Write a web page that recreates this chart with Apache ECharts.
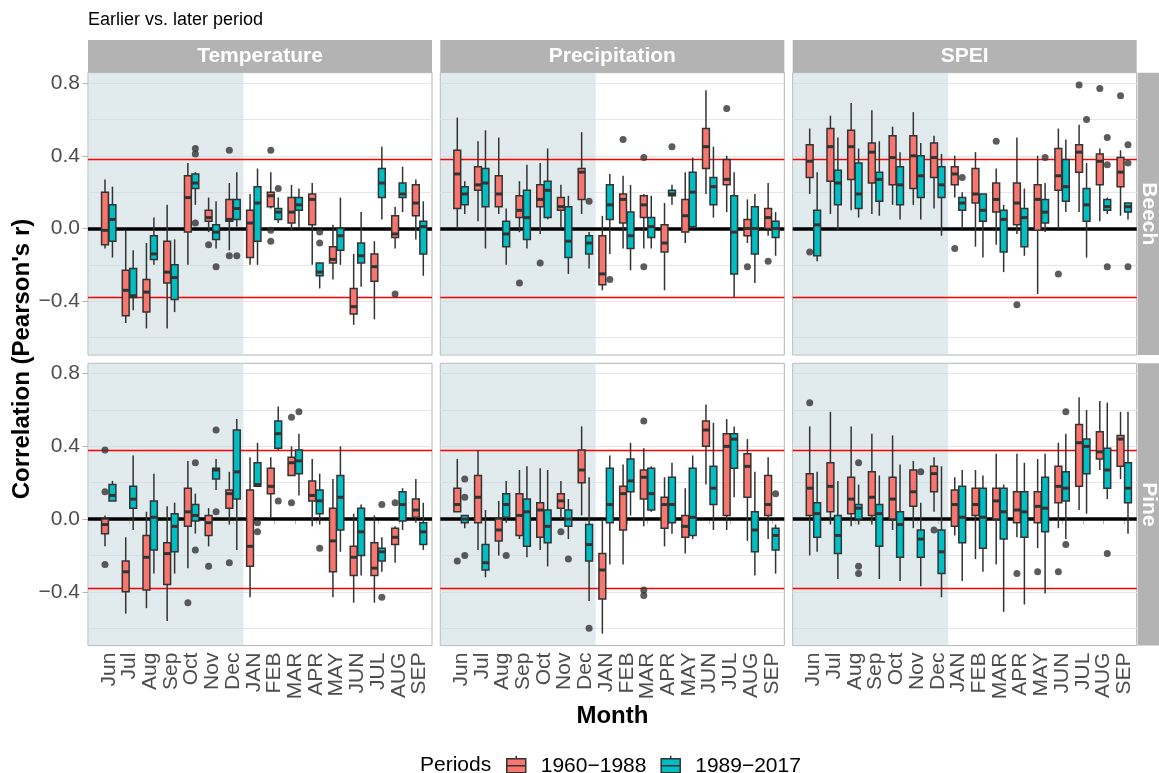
<!DOCTYPE html>
<html><head><meta charset="utf-8">
<script src="https://cdn.jsdelivr.net/npm/echarts@6/dist/echarts.min.js"></script>
<style>html,body{margin:0;padding:0;background:#fff}#c{width:1159px;height:773px}</style>
</head><body><div id="c"></div>
<script>
// ---------- categories / labels ----------
const months = ['Jun','Jul','Aug','Sep','Oct','Nov','Dec','JAN','FEB','MAR','APR','MAY','JUN','JUL','AUG','SEP'];
const variables = ['Temperature','Precipitation','SPEI'];
const species = ['Beech','Pine'];
const periods = ['1960−1988','1989−2017'];
const yTicks = [-0.4, 0, 0.4, 0.8];
const yMinorTicks = [-0.6, -0.2, 0.2, 0.6];
const criticalR = 0.381;
const previousYearEnd = 7.5; // shaded previous-year months end between Dec and JAN

// ---------- box stats: [whiskerLow, Q1, median, Q3, whiskerHigh] per month ----------
const tempBeechEarly = [[-0.11,-0.09,-0.01,0.20,0.27],[-0.52,-0.48,-0.34,-0.23,-0.01],[-0.55,-0.46,-0.35,-0.28,-0.08],[-0.55,-0.30,-0.24,-0.07,0.13],[-0.20,-0.02,0.17,0.29,0.36],[-0.02,0.04,0.06,0.10,0.17],[-0.12,0.04,0.05,0.16,0.25],[-0.20,-0.16,0.03,0.10,0.19],[0.11,0.12,0.18,0.20,0.31],[-0.01,0.03,0.09,0.17,0.24],[-0.20,0.02,0.16,0.19,0.25],[-0.28,-0.19,-0.17,-0.10,0.02],[-0.53,-0.47,-0.43,-0.33,-0.14],[-0.50,-0.29,-0.21,-0.14,-0.07],[-0.11,-0.05,-0.03,0.07,0.12],[-0.06,0.07,0.14,0.24,0.27]];
const tempBeechLate = [[-0.16,-0.07,0.05,0.13,0.23],[-0.45,-0.38,-0.37,-0.22,-0.12],[-0.20,-0.17,-0.14,-0.04,0.06],[-0.46,-0.39,-0.27,-0.20,-0.06],[0.13,0.22,0.25,0.30,0.31],[-0.11,-0.06,-0.02,0.02,0.15],[0.01,0.05,0.11,0.16,0.31],[-0.20,-0.07,0.14,0.23,0.33],[0.03,0.05,0.09,0.11,0.17],[0.00,0.10,0.13,0.17,0.22],[-0.33,-0.26,-0.24,-0.19,-0.19],[-0.20,-0.12,-0.04,0.00,0.17],[-0.32,-0.19,-0.15,-0.08,0.09],[0.05,0.17,0.25,0.33,0.45],[0.09,0.17,0.19,0.25,0.34],[-0.26,-0.14,0.01,0.04,0.15]];
const precBeechEarly = [[0.00,0.11,0.30,0.43,0.61],[0.04,0.21,0.24,0.34,0.48],[0.08,0.12,0.19,0.29,0.50],[-0.02,0.06,0.10,0.18,0.26],[-0.03,0.12,0.16,0.24,0.36],[0.00,0.10,0.12,0.17,0.24],[0.08,0.16,0.31,0.33,0.53],[-0.34,-0.31,-0.25,-0.04,0.07],[-0.11,0.03,0.16,0.19,0.29],[-0.11,0.06,0.13,0.18,0.19],[-0.34,-0.13,-0.08,0.02,0.14],[-0.08,-0.02,0.07,0.16,0.31],[0.19,0.33,0.45,0.55,0.76],[0.09,0.24,0.27,0.38,0.40],[-0.08,-0.04,0.00,0.05,0.16],[-0.04,0.00,0.06,0.11,0.25]];
const precBeechLate = [[0.08,0.13,0.19,0.23,0.26],[-0.11,0.12,0.25,0.33,0.54],[-0.20,-0.10,-0.03,0.04,0.11],[-0.11,-0.06,0.06,0.21,0.35],[0.05,0.06,0.21,0.26,0.44],[-0.25,-0.16,-0.07,0.12,0.18],[-0.22,-0.14,-0.08,-0.04,-0.02],[-0.14,0.05,0.13,0.24,0.30],[-0.23,-0.11,-0.04,0.09,0.24],[-0.11,-0.05,0.01,0.06,0.18],[0.13,0.18,0.19,0.21,0.24],[0.00,0.01,0.20,0.31,0.39],[0.06,0.13,0.23,0.28,0.45],[-0.38,-0.25,-0.02,0.18,0.31],[-0.30,-0.14,0.00,0.12,0.19],[-0.15,-0.05,0.00,0.04,0.09]];
const speiBeechEarly = [[0.19,0.28,0.37,0.46,0.55],[0.08,0.26,0.45,0.55,0.62],[0.10,0.27,0.45,0.54,0.69],[0.08,0.25,0.42,0.47,0.65],[0.13,0.24,0.39,0.51,0.56],[0.13,0.22,0.40,0.51,0.64],[0.11,0.28,0.39,0.47,0.51],[0.17,0.24,0.30,0.34,0.40],[-0.10,0.14,0.19,0.33,0.42],[-0.09,0.09,0.16,0.25,0.33],[-0.03,0.02,0.14,0.25,0.50],[-0.36,-0.01,0.16,0.24,0.40],[0.00,0.21,0.29,0.44,0.55],[0.09,0.31,0.42,0.46,0.57],[0.04,0.24,0.37,0.41,0.44],[0.07,0.23,0.31,0.39,0.43]];
const speiBeechLate = [[-0.18,-0.15,0.02,0.10,0.31],[-0.01,0.13,0.25,0.32,0.50],[0.06,0.11,0.19,0.36,0.44],[0.07,0.15,0.27,0.31,0.48],[0.05,0.13,0.24,0.34,0.42],[0.05,0.17,0.29,0.40,0.47],[-0.04,0.17,0.24,0.34,0.41],[0.00,0.10,0.14,0.17,0.20],[-0.16,0.04,0.10,0.19,0.19],[-0.24,-0.13,0.05,0.10,0.13],[-0.15,-0.10,0.06,0.11,0.22],[-0.02,0.03,0.09,0.16,0.25],[0.09,0.15,0.23,0.38,0.49],[-0.16,0.04,0.13,0.22,0.36],[0.08,0.10,0.12,0.16,0.17],[0.05,0.09,0.12,0.14,0.14]];
const tempPineEarly = [[-0.15,-0.08,-0.03,0.00,0.02],[-0.52,-0.40,-0.29,-0.23,-0.10],[-0.49,-0.39,-0.21,-0.09,0.04],[-0.56,-0.36,-0.19,-0.13,0.07],[-0.27,-0.04,0.04,0.17,0.32],[-0.15,-0.09,-0.02,0.02,0.06],[-0.03,0.06,0.14,0.16,0.26],[-0.43,-0.26,-0.15,0.16,0.34],[0.01,0.14,0.18,0.28,0.34],[0.24,0.24,0.31,0.34,0.40],[-0.04,0.10,0.13,0.21,0.33],[-0.43,-0.29,-0.12,0.06,0.22],[-0.46,-0.31,-0.21,-0.15,0.03],[-0.46,-0.31,-0.27,-0.13,0.02],[-0.24,-0.14,-0.10,-0.05,-0.04],[-0.02,0.01,0.05,0.11,0.22]];
const tempPineLate = [[0.10,0.10,0.13,0.19,0.21],[-0.06,0.06,0.11,0.18,0.35],[-0.30,-0.17,0.01,0.10,0.25],[-0.30,-0.18,-0.04,0.03,0.09],[-0.08,-0.01,0.02,0.08,0.14],[0.16,0.22,0.27,0.28,0.33],[-0.17,0.11,0.26,0.49,0.55],[0.18,0.18,0.19,0.31,0.42],[0.38,0.39,0.47,0.54,0.62],[0.13,0.25,0.32,0.38,0.47],[-0.03,0.03,0.10,0.16,0.25],[-0.18,-0.06,0.12,0.24,0.40],[-0.31,-0.20,-0.07,0.06,0.08],[-0.29,-0.23,-0.18,-0.16,-0.10],[-0.06,-0.01,0.08,0.15,0.17],[-0.17,-0.14,-0.07,-0.02,0.09]];
const precPineEarly = [[0.04,0.04,0.08,0.17,0.33],[-0.17,-0.02,0.12,0.24,0.38],[-0.20,-0.12,-0.06,0.00,0.10],[-0.11,-0.09,0.02,0.14,0.27],[-0.17,-0.10,0.05,0.09,0.28],[0.00,0.06,0.10,0.14,0.21],[0.02,0.20,0.27,0.38,0.51],[-0.63,-0.44,-0.28,-0.19,0.00],[-0.25,-0.06,0.14,0.18,0.30],[-0.04,0.11,0.23,0.27,0.39],[-0.15,-0.05,0.08,0.12,0.23],[-0.19,-0.10,-0.04,0.02,0.17],[0.19,0.40,0.49,0.54,0.63],[-0.06,0.02,0.40,0.47,0.55],[-0.12,0.12,0.29,0.36,0.44],[-0.11,0.02,0.08,0.24,0.34]];
const precPineLate = [[-0.05,-0.02,0.00,0.02,0.02],[-0.32,-0.28,-0.24,-0.14,0.05],[-0.02,0.01,0.08,0.14,0.21],[-0.21,-0.15,0.04,0.11,0.29],[-0.26,-0.13,-0.04,0.05,0.27],[-0.11,-0.04,0.00,0.05,0.11],[-0.45,-0.23,-0.14,-0.03,0.23],[-0.25,-0.02,0.08,0.28,0.35],[0.02,0.15,0.21,0.33,0.42],[0.04,0.05,0.14,0.28,0.29],[-0.08,-0.02,0.08,0.23,0.31],[-0.11,-0.09,0.01,0.28,0.35],[-0.06,0.08,0.17,0.29,0.53],[0.12,0.28,0.44,0.47,0.51],[-0.31,-0.18,-0.06,0.04,0.26],[-0.30,-0.17,-0.09,-0.05,-0.03]];
const speiPineEarly = [[-0.20,0.02,0.17,0.25,0.51],[-0.03,0.04,0.18,0.31,0.59],[-0.04,0.03,0.11,0.23,0.51],[-0.03,0.02,0.12,0.26,0.47],[-0.06,0.00,0.11,0.23,0.46],[-0.05,0.07,0.15,0.27,0.32],[0.04,0.15,0.25,0.29,0.34],[-0.09,-0.04,0.08,0.16,0.23],[-0.22,0.02,0.08,0.17,0.27],[-0.25,0.00,0.10,0.17,0.36],[-0.10,-0.02,0.05,0.15,0.36],[-0.16,-0.02,0.07,0.15,0.33],[-0.05,0.09,0.18,0.29,0.42],[0.05,0.18,0.42,0.52,0.67],[0.27,0.33,0.37,0.48,0.65],[0.22,0.29,0.44,0.46,0.59]];
const speiPineLate = [[-0.18,-0.10,0.03,0.09,0.26],[-0.33,-0.19,-0.09,0.02,0.21],[-0.03,0.00,0.06,0.08,0.19],[-0.33,-0.15,0.03,0.08,0.24],[-0.34,-0.21,-0.03,0.04,0.30],[-0.37,-0.21,-0.11,-0.06,0.09],[-0.43,-0.30,-0.18,-0.06,0.29],[-0.34,-0.13,0.01,0.18,0.27],[-0.29,-0.16,0.01,0.17,0.24],[-0.51,-0.11,0.04,0.17,0.19],[-0.47,-0.10,0.04,0.15,0.31],[-0.41,-0.07,0.06,0.23,0.36],[-0.11,0.10,0.17,0.26,0.47],[0.03,0.25,0.40,0.44,0.60],[0.11,0.17,0.27,0.39,0.64],[-0.08,0.09,0.17,0.31,0.59]];

// ---------- outliers: [month, value] ----------
const tempBeechEarlyOut = [['Nov',-0.09],['Dec',0.43],['Dec',-0.15],['FEB',0.43],['FEB',-0.01],['FEB',-0.07],['AUG',-0.36]];
const tempBeechLateOut = [['Oct',0.44],['Oct',0.41],['Oct',0.03],['Nov',-0.21],['Dec',-0.15],['FEB',0.22],['APR',-0.02],['APR',-0.08]];
const precBeechEarlyOut = [['Sep',-0.30],['Oct',-0.19],['FEB',0.49],['MAR',0.39],['MAR',-0.21],['JUL',0.66],['AUG',-0.21],['SEP',-0.18]];
const precBeechLateOut = [['Dec',0.15],['JAN',-0.28],['APR',0.45]];
const speiBeechEarlyOut = [['Jun',-0.13],['JAN',-0.11],['MAR',0.48],['APR',-0.42],['JUN',-0.25],['JUL',0.79],['AUG',0.77],['SEP',0.73]];
const speiBeechLateOut = [['JAN',0.28],['MAY',0.39],['JUL',0.60],['AUG',0.50],['AUG',0.35],['AUG',-0.21],['SEP',0.46],['SEP',0.36],['SEP',-0.21]];
const tempPineEarlyOut = [['Jun',0.38],['Jun',0.15],['Jun',-0.25],['Oct',-0.46],['Nov',-0.26],['Dec',-0.24],['MAR',0.56],['MAR',0.09],['AUG',0.09]];
const tempPineLateOut = [['Oct',0.31],['Oct',-0.17],['Nov',0.49],['Nov',0.04],['JAN',-0.02],['JAN',-0.07],['FEB',0.10],['MAR',0.59],['APR',-0.16],['JUL',0.08],['JUL',-0.43]];
const precPineEarlyOut = [['Jun',-0.23],['Nov',-0.07],['MAR',0.54],['MAR',-0.39],['MAR',-0.42]];
const precPineLateOut = [['Jun',0.22],['Jun',0.12],['Jun',-0.20],['Aug',-0.20],['Nov',-0.22],['Dec',-0.60],['SEP',0.14]];
const speiPineEarlyOut = [['Jun',0.64],['Dec',-0.06],['APR',-0.30],['MAY',-0.29],['JUN',-0.29]];
const speiPineLateOut = [['Aug',0.31],['Aug',-0.26],['Aug',-0.30],['Nov',0.26],['JUN',0.59],['JUN',-0.14],['AUG',-0.19]];

// panel order: row (species) x column (variable)
const panels = [
  [tempBeechEarly, tempBeechLate, tempBeechEarlyOut, tempBeechLateOut],
  [precBeechEarly, precBeechLate, precBeechEarlyOut, precBeechLateOut],
  [speiBeechEarly, speiBeechLate, speiBeechEarlyOut, speiBeechLateOut],
  [tempPineEarly, tempPineLate, tempPineEarlyOut, tempPineLateOut],
  [precPineEarly, precPineLate, precPineEarlyOut, precPineLateOut],
  [speiPineEarly, speiPineLate, speiPineEarlyOut, speiPineLateOut]
];

// ---------- layout / style ----------
const FONT = '"Liberation Sans", Arial, Helvetica, sans-serif';
const colLeft = [88, 440.3, 792.7];
const rowTop = [72.7, 363.3];
const PW = 344, PH = 282.3;
const colors = ['#F8766D', '#00BFC4'];
const dodge = [-0.18, 0.18];
const BOX_HALF = 0.165;
const Y_MIN = -0.696, Y_MAX = 0.857;
const X_MIN = 0, X_MAX = 16.6;

const grids = [], xAxes = [], yAxes = [], series = [];
const fmtY = v => Math.abs(v) < 1e-9 ? '0.0' : (v < 0 ? '−' + (-v).toFixed(1) : v.toFixed(1));
const tickVals = months.map((m, i) => i + 1);
const oddVals = tickVals.filter(v => v % 2 === 1);
const evenVals = tickVals.filter(v => v % 2 === 0);
const xLabelStyle = (vals) => ({show: true, customValues: vals, rotate: 90, margin: 7,
  showMinLabel: true, showMaxLabel: true,
  formatter: v => months[Math.round(v) - 1], fontSize: 21, color: '#4d4d4d', fontFamily: FONT});

panels.forEach((pd, p) => {
  const row = Math.floor(p / 3), col = p % 3;
  grids.push({left: colLeft[col], top: rowTop[row], width: PW, height: PH, show: true,
    borderColor: '#b3b3b3', borderWidth: 1, backgroundColor: '#ffffff'});
  xAxes.push({type: 'value', gridIndex: p, min: X_MIN, max: X_MAX, position: 'bottom',
    splitLine: {show: false}, axisLine: {show: false},
    axisTick: {show: row === 1, customValues: tickVals, length: 5, lineStyle: {color: '#b3b3b3', width: 1}},
    axisLabel: row === 1 ? xLabelStyle(oddVals) : {show: false}});
  yAxes.push({type: 'value', gridIndex: p, min: Y_MIN, max: Y_MAX,
    splitLine: {show: false}, axisLine: {show: false},
    axisTick: {show: col === 0, customValues: yTicks, length: 5.5, lineStyle: {color: '#b3b3b3', width: 1}},
    axisLabel: {show: col === 0, customValues: yTicks, formatter: fmtY, margin: 8,
      showMinLabel: true, showMaxLabel: true,
      fontSize: 21, color: '#4d4d4d', fontFamily: FONT}});

  // gridlines
  series.push({type: 'line', xAxisIndex: p, yAxisIndex: p, data: [], silent: true, z: 1,
    markLine: {silent: true, symbol: ['none','none'], label: {show: false}, animation: false, z: 1,
      lineStyle: {color: '#e6e6e6', width: 1, type: 'solid'},
      data: yMinorTicks.concat(yTicks).map(v => ({yAxis: v}))}});
  // previous-year shading
  series.push({type: 'line', xAxisIndex: p, yAxisIndex: p, data: [], silent: true, z: 1,
    markArea: {silent: true, animation: false, z: 1.5,
      itemStyle: {color: 'rgba(200,216,222,0.55)'},
      data: [[{xAxis: 0}, {xAxis: previousYearEnd}]]}});
  // reference lines
  series.push({type: 'line', xAxisIndex: p, yAxisIndex: p, data: [], silent: true, z: 2,
    markLine: {silent: true, symbol: ['none','none'], label: {show: false}, animation: false, z: 2,
      data: [
        {yAxis: criticalR, lineStyle: {color: '#ff0000', width: 1.4, type: 'solid'}},
        {yAxis: -criticalR, lineStyle: {color: '#ff0000', width: 1.4, type: 'solid'}},
        {yAxis: 0, lineStyle: {color: '#000000', width: 3.5, type: 'solid'}}
      ]}});

  [0, 1].forEach(k => {
    const stats = pd[k], outs = pd[k + 2], off = dodge[k], color = colors[k];
    series.push({type: 'custom', name: periods[k], xAxisIndex: p, yAxisIndex: p, z: 3,
      itemStyle: {color: color},
      data: stats.map((s, i) => [i + 1].concat(s)),
      encode: {x: 0, y: [1, 2, 3, 4, 5]},
      renderItem: (params, api) => {
        const x = api.value(0) + off;
        const lo = api.coord([x, api.value(1)]);
        const q1 = api.coord([x, api.value(2)]);
        const md = api.coord([x, api.value(3)]);
        const q3 = api.coord([x, api.value(4)]);
        const hi = api.coord([x, api.value(5)]);
        const hw = api.size([BOX_HALF, 0])[0];
        const ls = {stroke: '#333333', lineWidth: 1.5};
        return {type: 'group', children: [
          {type: 'line', shape: {x1: lo[0], y1: lo[1], x2: q1[0], y2: q1[1]}, style: ls},
          {type: 'line', shape: {x1: q3[0], y1: q3[1], x2: hi[0], y2: hi[1]}, style: ls},
          {type: 'rect', shape: {x: q3[0] - hw, y: q3[1], width: 2 * hw, height: q1[1] - q3[1]},
            style: {fill: color, stroke: '#333333', lineWidth: 1.5}},
          {type: 'line', shape: {x1: md[0] - hw, y1: md[1], x2: md[0] + hw, y2: md[1]},
            style: {stroke: '#333333', lineWidth: 3}}
        ]};
      }});
    series.push({type: 'scatter', xAxisIndex: p, yAxisIndex: p, z: 4, silent: true,
      symbol: 'circle', symbolSize: 7, itemStyle: {color: '#333333'},
      data: outs.map(o => [months.indexOf(o[0]) + 1 + off, o[1]])});
  });
});
// second label axis for the bottom row (even months), same scale, so neighbouring rotated labels are not culled
[3, 4, 5].forEach(g => {
  xAxes.push({type: 'value', gridIndex: g, min: X_MIN, max: X_MAX, position: 'bottom', offset: 0,
    splitLine: {show: false}, axisLine: {show: false}, axisTick: {show: false},
    axisLabel: xLabelStyle(evenVals)});
});

// ---------- strips & titles (text as real text) ----------
const graphics = [];
variables.forEach((v, c) => {
  graphics.push({type: 'rect', left: colLeft[c], top: 40, shape: {width: PW, height: 32.7},
    style: {fill: '#b3b3b3'}, silent: true});
  graphics.push({type: 'text', x: colLeft[c] + PW / 2, y: 56.5, silent: true,
    style: {text: v, fill: '#ffffff', font: 'bold 21px ' + FONT, textAlign: 'center', textVerticalAlign: 'middle', align: 'center', verticalAlign: 'middle'}});
});
species.forEach((s, r) => {
  graphics.push({type: 'rect', left: 1137.7, top: rowTop[r], shape: {width: 21.3, height: PH},
    style: {fill: '#b3b3b3'}, silent: true});
  graphics.push({type: 'text', x: 1148.5, y: rowTop[r] + PH / 2, rotation: -Math.PI / 2, silent: true,
    style: {text: s, fill: '#ffffff', font: 'bold 21px ' + FONT, textAlign: 'center', textVerticalAlign: 'middle', align: 'center', verticalAlign: 'middle'}});
});
graphics.push({type: 'text', x: 88, y: 20, silent: true,
  style: {text: 'Earlier vs. later period', fill: '#000000', font: '18px ' + FONT, textAlign: 'left', textVerticalAlign: 'middle', align: 'left', verticalAlign: 'middle'}});
graphics.push({type: 'text', x: 612.4, y: 716, silent: true,
  style: {text: 'Month', fill: '#000000', font: 'bold 24px ' + FONT, textAlign: 'center', textVerticalAlign: 'middle', align: 'center', verticalAlign: 'middle'}});
graphics.push({type: 'text', x: 22, y: 359, rotation: Math.PI / 2, silent: true,
  style: {text: "Correlation (Pearson's r)", fill: '#000000', font: 'bold 24px ' + FONT, textAlign: 'center', textVerticalAlign: 'middle', align: 'center', verticalAlign: 'middle'}});
graphics.push({type: 'text', x: 420, y: 765, silent: true,
  style: {text: 'Periods', fill: '#000000', font: '21px ' + FONT, textAlign: 'left', textVerticalAlign: 'middle', align: 'left', verticalAlign: 'middle'}});

// boxplot-shaped legend key
const keyIcon = 'path://M9.5,0L9.5,3M0,3L19,3L19,17L0,17ZM9.5,17L9.5,20M0,10L19,10';

const chart = echarts.init(document.getElementById('c'), null, {renderer: 'canvas'});
chart.setOption({
  animation: false,
  backgroundColor: '#ffffff',
  grid: grids, xAxis: xAxes, yAxis: yAxes, series: series,
  legend: {left: 506, top: 755, padding: 0, orient: 'horizontal', itemWidth: 19, itemHeight: 20, itemGap: 14,
    selectedMode: false,
    data: periods.map(n => ({name: n, icon: keyIcon})),
    itemStyle: {borderColor: '#333333', borderWidth: 1.5},
    textStyle: {fontSize: 21, color: '#000000', fontFamily: FONT, padding: [0, 0, 0, 10]}},
  graphic: graphics
});
</script></body></html>
